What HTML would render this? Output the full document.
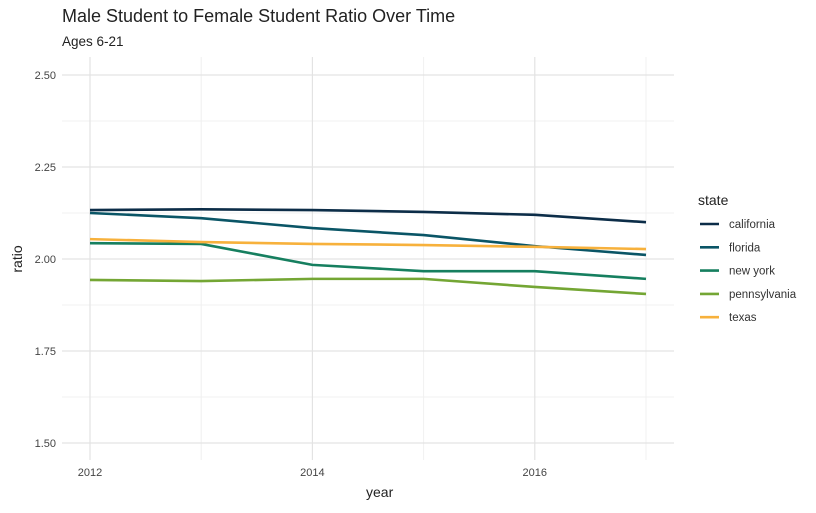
<!DOCTYPE html>
<html><head><meta charset="utf-8"><style>
body{margin:0;background:#fff;font-family:"Liberation Sans",sans-serif;}
svg text{font-family:"Liberation Sans",sans-serif;}
</style></head><body>
<svg id="chart" width="816" height="508">
<text x="62" y="22" font-size="18" fill="#222">Male Student to Female Student Ratio Over Time</text>
<text x="62" y="46" font-size="13.5" fill="#222">Ages 6-21</text>
<g id="grid"></g><g id="series"></g><g id="axes"></g><g id="legend"></g>
<text x="366" y="497" font-size="14" fill="#222">year</text>
<text transform="translate(22,259) rotate(-90)" text-anchor="middle" font-size="14" fill="#222">ratio</text>
</svg>
<script>
const years=[2012,2013,2014,2015,2016,2017];
const states=["california","florida","new york","pennsylvania","texas"];
const california=[2.133,2.135,2.133,2.128,2.120,2.100];
const florida=[2.125,2.111,2.084,2.065,2.035,2.011];
const newYork=[2.043,2.041,1.984,1.967,1.967,1.946];
const pennsylvania=[1.943,1.940,1.946,1.946,1.924,1.905];
const texas=[2.054,2.046,2.041,2.038,2.033,2.027];
const yTicks=[1.50,1.75,2.00,2.25,2.50];
const xTicks=[2012,2014,2016];
const series=[california,florida,newYork,pennsylvania,texas];
const colors=["#0c2d48","#0a5566","#167f5f","#74a634","#f7b13c"];
const NS="http://www.w3.org/2000/svg";
const X=v=>90+(v-2012)*111.2;
const Y=v=>259-(v-2)*368;
function mk(tag,attrs,parent){const e=document.createElementNS(NS,tag);for(const k in attrs)e.setAttribute(k,attrs[k]);document.getElementById(parent).appendChild(e);return e;}
// minor grid
for(let i=0;i<yTicks.length-1;i++){const v=(yTicks[i]+yTicks[i+1])/2;
const l=mk("line",{x1:62,x2:674,y1:Y(v),y2:Y(v),stroke:"#f0f0f0","stroke-width":1},"grid");

}
for(let y=2013;y<=2017;y+=2){
const l=mk("line",{x1:X(y),x2:X(y),y1:57,y2:460,stroke:"#f0f0f0","stroke-width":1},"grid");

}
yTicks.forEach(v=>{
const l=mk("line",{x1:62,x2:674,y1:Y(v),y2:Y(v),stroke:"#e3e3e3","stroke-width":1.2},"grid");


const t=mk("text",{x:56,y:Y(v)+4,"text-anchor":"end","font-size":11,fill:"#444"},"axes");
t.textContent=v.toFixed(2);

});
xTicks.forEach(v=>{
const l=mk("line",{x1:X(v),x2:X(v),y1:57,y2:460,stroke:"#e3e3e3","stroke-width":1.2},"grid");


const t=mk("text",{x:X(v),y:476,"text-anchor":"middle","font-size":11,fill:"#444"},"axes");
t.textContent=v;

});
series.forEach((s,i)=>{
const p=mk("polyline",{points:s.map((v,j)=>X(years[j])+","+Y(v)).join(" "),fill:"none",stroke:colors[i],"stroke-width":2.6},"series");

});
const lt=mk("text",{x:698,y:205,"font-size":14,fill:"#222"},"legend");
lt.textContent="state";


states.forEach((s,i)=>{
const y=224+i*23.3;
const l=mk("line",{x1:700,x2:719,y1:y,y2:y,stroke:colors[i],"stroke-width":2.6},"legend");


const t=mk("text",{x:729,y:y+4,"font-size":11.5,fill:"#333"},"legend");
t.textContent=s;

});
</script>
</body></html>
